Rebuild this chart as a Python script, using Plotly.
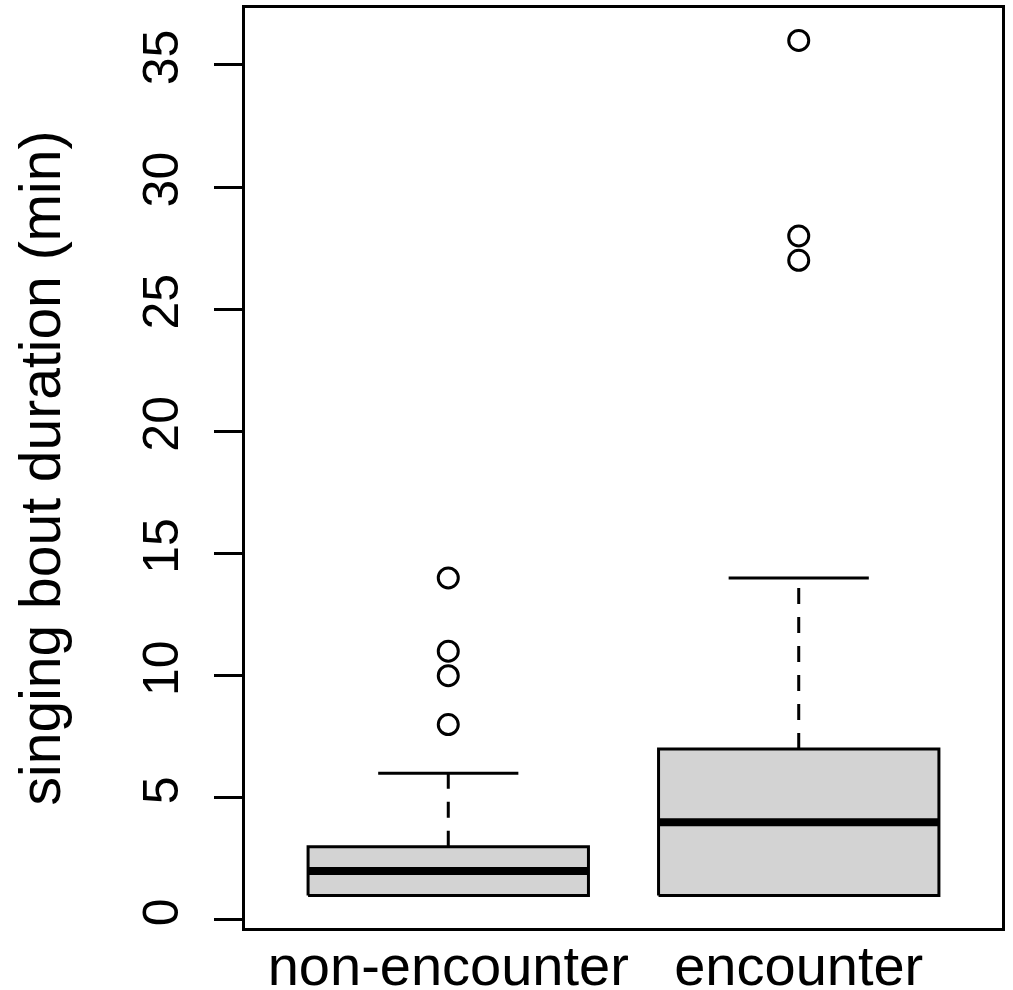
import plotly.graph_objects as go

categories = ["non-encounter", "encounter"]
positions = [1, 2]
q1 = [1, 1]
median = [2, 4]
q3 = [3, 7]
lower_whisker = [1, 1]
upper_whisker = [6, 14]
outliers = [[8, 10, 11, 14], [27, 28, 36]]
y_ticks = [0, 5, 10, 15, 20, 25, 30, 35]

BOX_W = 0.8
STAPLE_W = 0.4
LW = 3
FONT = "Liberation Sans, Arial, Helvetica, sans-serif"

fig = go.Figure()
for i, c in enumerate(positions):
    h = BOX_W / 2
    s = STAPLE_W / 2
    # whiskers (dashed)
    fig.add_trace(go.Scatter(x=[c, c], y=[q3[i], upper_whisker[i]], mode="lines",
                             line=dict(color="black", width=LW, dash="16px,13px"),
                             showlegend=False, hoverinfo="skip"))
    fig.add_trace(go.Scatter(x=[c, c], y=[q1[i], lower_whisker[i]], mode="lines",
                             line=dict(color="black", width=LW, dash="16px,13px"),
                             showlegend=False, hoverinfo="skip"))
    # staples
    fig.add_trace(go.Scatter(x=[c - s, c + s], y=[upper_whisker[i]] * 2, mode="lines",
                             line=dict(color="black", width=LW),
                             showlegend=False, hoverinfo="skip"))
    fig.add_trace(go.Scatter(x=[c - s, c + s], y=[lower_whisker[i]] * 2, mode="lines",
                             line=dict(color="black", width=LW),
                             showlegend=False, hoverinfo="skip"))
    # box
    fig.add_trace(go.Scatter(x=[c - h, c + h, c + h, c - h, c - h],
                             y=[q1[i], q1[i], q3[i], q3[i], q1[i]],
                             mode="lines", fill="toself", fillcolor="#D3D3D3",
                             line=dict(color="black", width=LW),
                             showlegend=False, hoverinfo="skip"))
    # median
    fig.add_trace(go.Scatter(x=[c - h, c + h], y=[median[i]] * 2, mode="lines",
                             line=dict(color="black", width=8),
                             showlegend=False, hoverinfo="skip"))
    # outliers
    fig.add_trace(go.Scatter(x=[c] * len(outliers[i]), y=outliers[i], mode="markers",
                             marker=dict(symbol="circle-open", size=20,
                                         color="black", line=dict(width=LW)),
                             showlegend=False, hoverinfo="skip"))

fig.update_layout(
    width=1013, height=990,
    margin=dict(l=245, r=11, t=8, b=62),
    paper_bgcolor="white", plot_bgcolor="white",
    font=dict(family=FONT, color="black"),
    showlegend=False,
)
fig.update_xaxes(
    range=[0.42, 2.58], tickvals=positions, ticktext=categories,
    showgrid=False, zeroline=False, showline=True, mirror=True,
    linecolor="black", linewidth=LW, ticks="", automargin=False,
    ticklabelstandoff=-13,
    tickfont=dict(size=56, family=FONT),
)
fig.update_yaxes(
    range=[-0.33, 37.33], tickvals=y_ticks, automargin=False,
    showgrid=False, zeroline=False, showline=True, mirror=True,
    linecolor="black", linewidth=LW, ticks="outside", ticklen=28,
    tickwidth=LW, tickcolor="black", tickangle=-90,
    ticklabelstandoff=16,
    tickfont=dict(size=50, family=FONT),
    title=dict(text="singing bout duration (min)", font=dict(size=57, family=FONT),
               standoff=55),
)

fig.write_html("out.html", config={"displayModeBar": False},
               post_script="document.body.style.margin='0';")
